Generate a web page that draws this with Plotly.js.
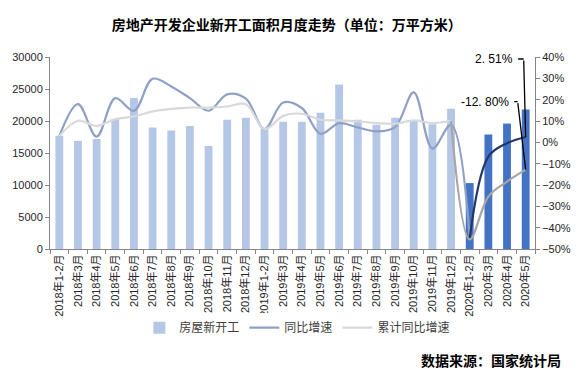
<!DOCTYPE html>
<html>
<head>
<meta charset="utf-8">
<script src="https://cdn.plot.ly/plotly-3.0.1.min.js"></script>
<style>html,body{margin:0;padding:0;background:#fff;}#chart{width:585px;height:382px;}</style>
</head>
<body>
<div id="chart"></div>
<script>
const categories = ["2018年1-2月","2018年3月","2018年4月","2018年5月","2018年6月","2018年7月","2018年8月","2018年9月","2018年10月","2018年11月","2018年12月",
  "2019年1-2月","2019年3月","2019年4月","2019年5月","2019年6月","2019年7月","2019年8月","2019年9月","2019年10月","2019年11月","2019年12月",
  "2020年1-2月","2020年3月","2020年4月","2020年5月"];
const newStarts = [17700,16900,17200,20300,23600,19000,18500,19200,16100,20200,20500,
  18700,19900,19900,21300,25700,20200,19400,20500,20000,19500,21900,
  10300,17900,19600,21800];
const yoyGrowth = [2.9,17.9,2.7,20.7,14.8,29.8,26.2,20.7,14.8,22.5,20.5,
  6.2,18.7,16.1,4.0,9.0,7.0,5.1,7.1,23.4,-2.9,8.2,
  -44.9,-6.7,-0.4,2.51];
const cumGrowth = [2.9,10.1,7.7,10.9,12.1,14.5,15.7,16.3,16.3,16.8,17.9,
  6.2,12.4,13.4,10.6,10.3,9.8,9.0,8.7,10.3,9.0,10.1,
  -45.5,-25.4,-18.4,-12.8];
const labelYoy = "2. 51%";
const labelCum = "-12. 80%";

const n2020 = 4; // last four periods (2020) highlighted
const splitIdx = categories.length - n2020; // first 2020 index
const barColors = newStarts.map((v,i)=> i >= splitIdx ? "#4472C4" : "#B4C7E7");

const FONT = "Liberation Sans, Arial, Noto Sans CJK SC, sans-serif";
const CJK = "Noto Sans CJK SC, Liberation Sans, sans-serif";

const traces = [
  {type:"bar", x:categories, y:newStarts, name:"房屋新开工", marker:{color:barColors}, yaxis:"y", legendrank:1},
  {type:"scatter", mode:"lines", x:categories.slice(0, splitIdx+1), y:yoyGrowth.slice(0, splitIdx+1), yaxis:"y2", name:"同比增速",
   line:{color:"#8EA0C6", width:2.2, shape:"spline", smoothing:1}, legendrank:2},
  {type:"scatter", mode:"lines", x:categories.slice(splitIdx), y:yoyGrowth.slice(splitIdx), yaxis:"y2", showlegend:false,
   line:{color:"#22386A", width:2.2, shape:"spline", smoothing:1}},
  {type:"scatter", mode:"lines", x:categories.slice(0, splitIdx), y:cumGrowth.slice(0, splitIdx), yaxis:"y2", name:"累计同比增速",
   line:{color:"#D9D9D9", width:2.2, shape:"spline", smoothing:1}, legendrank:3},
  {type:"scatter", mode:"lines", x:categories.slice(splitIdx-1), y:cumGrowth.slice(splitIdx-1), yaxis:"y2", showlegend:false,
   line:{color:"#A6A6A6", width:2.2, shape:"spline", smoothing:1}}
];

const last = categories[categories.length-1];
const yLast = yoyGrowth[yoyGrowth.length-1];
const cLast = cumGrowth[cumGrowth.length-1];

const layout = {
  width:585, height:382,
  margin:{l:50, r:50, t:57, b:133},
  paper_bgcolor:"#fff", plot_bgcolor:"#fff",
  font:{family:FONT, size:11, color:"#262626"},
  title:{text:"房地产开发企业新开工面积月度走势（单位：万平方米）", x:0.49, xanchor:"center", y:0.935, yanchor:"middle",
    font:{family:CJK, size:14, color:"#000", weight:"bold"}},
  bargap:0.58,
  showlegend:true,
  legend:{orientation:"h", x:0.51, xanchor:"center", y:-0.41, yanchor:"middle", font:{family:CJK, size:12, color:"#404040"},
    itemwidth:30, tracegroupgap:0, traceorder:"normal"},
  xaxis:{type:"category", showline:true, linecolor:"#868686", linewidth:1, ticks:"outside", tickson:"boundaries", ticklen:4,
    tickcolor:"#868686", tickangle:-90, tickfont:{family:FONT, size:11, color:"#262626"}, showgrid:false, zeroline:false, fixedrange:true},
  yaxis:{range:[0,30000], dtick:5000, showline:true, linecolor:"#868686", ticks:"outside", ticklen:4, tickcolor:"#868686",
    showgrid:false, zeroline:false, tickfont:{family:FONT, size:11, color:"#262626"}, tickformat:"d"},
  yaxis2:{range:[-50,40], dtick:10, overlaying:"y", side:"right", showline:true, linecolor:"#868686", ticks:"outside", ticklen:4,
    tickcolor:"#868686", ticksuffix:"%", showgrid:false, zeroline:false, tickfont:{family:FONT, size:11, color:"#262626"}},
  annotations:[
    {x:last, y:yLast, xref:"x", yref:"y2", text:labelYoy, showarrow:false, xanchor:"right", yanchor:"middle", xshift:-11, yshift:78,
     font:{family:FONT, size:12, color:"#000"}},
    {x:last, y:yLast, xref:"x", yref:"y2", text:"", showarrow:true, arrowhead:0, arrowwidth:1.3, arrowcolor:"#000", ax:-2, ay:-78, standoff:0},
    {x:last, y:yLast, xref:"x", yref:"y2", text:"", showarrow:true, arrowhead:0, arrowwidth:1.3, arrowcolor:"#000", ax:-7, ay:0, xshift:-2, yshift:78, standoff:0},
    {x:last, y:cLast, xref:"x", yref:"y2", text:labelCum, showarrow:false, xanchor:"right", yanchor:"middle", xshift:-15, yshift:68,
     font:{family:FONT, size:12, color:"#000"}},
    {x:last, y:cLast, xref:"x", yref:"y2", text:"", showarrow:true, arrowhead:0, arrowwidth:1.3, arrowcolor:"#000", ax:-8, ay:-68, standoff:0},
    {x:last, y:cLast, xref:"x", yref:"y2", text:"", showarrow:true, arrowhead:0, arrowwidth:1.3, arrowcolor:"#000", ax:-5, ay:0, xshift:-8, yshift:68, standoff:0},
    {x:1.058, y:-0.578, xref:"paper", yref:"paper", text:"数据来源：国家统计局", showarrow:false, xanchor:"right", yanchor:"middle",
     font:{family:CJK, size:14, color:"#000", weight:"bold"}}
  ]
};

Plotly.newPlot("chart", traces, layout, {displayModeBar:false, staticPlot:true});
</script>
</body>
</html>
